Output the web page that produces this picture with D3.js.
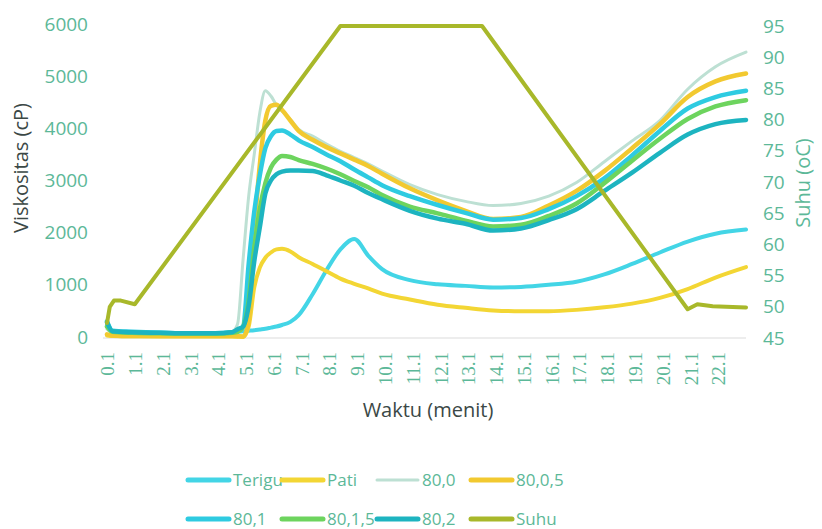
<!DOCTYPE html>
<html>
<head>
<meta charset="utf-8">
<script src="https://cdn.jsdelivr.net/npm/d3@7"></script>
<style>
  body { margin: 0; background: #fff; }
  svg { display: block; }
</style>
</head>
<body>
<svg id="chart"></svg>
<script>
const W = 822, H = 529;
const svg = d3.select("#chart").attr("width", W).attr("height", H);

// time (menit) shared by the viscosity series
const times = [0.1, 0.3, 1, 2, 3, 4, 4.6, 4.8, 5.0, 5.2, 5.4, 5.6, 5.8, 6.0, 6.2, 6.4, 6.7, 7.0, 7.5, 8.0,
  8.5, 9.0, 9.5, 10, 11, 12, 13, 14, 15, 16, 17, 18, 19, 20, 21, 22, 23.1];

const terigu = [250, 100, 90, 80, 70, 70, 90, 100, 110, 120, 130, 145, 160, 180, 200, 230, 290, 420, 820, 1280,
  1680, 1880, 1560, 1300, 1090, 1010, 980, 950, 960, 1000, 1060, 1200, 1400, 1620, 1830, 1980, 2060];
const pati = [30, 20, 15, 10, 10, 10, 10, 5, 0, 200, 950, 1330, 1520, 1620, 1680, 1690, 1640, 1530, 1400, 1260,
  1120, 1020, 930, 830, 720, 620, 560, 510, 495, 495, 520, 570, 640, 750, 920, 1140, 1340];
const s80_0 = [150, 80, 70, 60, 60, 60, 100, 250, 1500, 2700, 3500, 4300, 4720, 4620, 4450, 4330, 4170, 3980, 3850, 3700,
  3560, 3440, 3320, 3180, 2920, 2730, 2600, 2520, 2560, 2700, 2960, 3360, 3760, 4150, 4750, 5180, 5460];
const s80_05 = [50, 30, 20, 20, 20, 20, 20, 15, 10, 300, 2000, 3300, 4150, 4430, 4450, 4350, 4150, 3950, 3780, 3640,
  3520, 3400, 3280, 3130, 2850, 2620, 2420, 2260, 2300, 2520, 2800, 3180, 3620, 4080, 4600, 4900, 5050];
const s80_1 = [300, 120, 100, 80, 70, 70, 90, 130, 200, 1400, 2400, 3100, 3620, 3850, 3950, 3960, 3880, 3770, 3640, 3500,
  3370, 3210, 3060, 2910, 2700, 2530, 2380, 2250, 2280, 2450, 2700, 3040, 3480, 3950, 4380, 4600, 4720];
const s80_15 = [200, 100, 80, 70, 60, 60, 80, 100, 200, 700, 1700, 2450, 2950, 3250, 3400, 3470, 3450, 3390, 3320, 3230,
  3120, 2990, 2870, 2720, 2500, 2370, 2230, 2120, 2150, 2320, 2560, 2950, 3380, 3800, 4180, 4420, 4540];
const s80_2 = [280, 110, 90, 80, 70, 70, 90, 150, 200, 600, 1450, 2100, 2750, 3000, 3120, 3170, 3190, 3190, 3180, 3100,
  3000, 2900, 2760, 2640, 2420, 2270, 2170, 2040, 2080, 2240, 2450, 2800, 3150, 3530, 3880, 4080, 4160];

// temperature (secondary axis)
const suhuTimes = [0.1, 0.2, 0.35, 0.6, 1.1, 8.5, 13.6, 21.0, 21.35, 21.9, 23.1];
const suhuValues = [47.4, 50.0, 51.0, 51.0, 50.4, 95, 95, 49.6, 50.4, 50.1, 49.9];

const xTicks = [0.1, 1.1, 2.1, 3.1, 4.1, 5.1, 6.1, 7.1, 8.1, 9.1, 10.1, 11.1, 12.1, 13.1, 14.1, 15.1, 16.1,
  17.1, 18.1, 19.1, 20.1, 21.1, 22.1];
const yLeftTicks = [0, 1000, 2000, 3000, 4000, 5000, 6000];
const yRightTicks = [45, 50, 55, 60, 65, 70, 75, 80, 85, 90, 95];

const seriesNames = ["Terigu", "Pati", "80,0", "80,0,5", "80,1", "80,1,5", "80,2"];
const seriesValues = [terigu, pati, s80_0, s80_05, s80_1, s80_15, s80_2];
const seriesColors = ["#43d5e6", "#f3d634", "#bde0d3", "#f2c930", "#2ecbe1", "#6dd45e", "#1db4c0"];
const seriesWidths = [4, 4, 3, 4.5, 4.5, 4.5, 4.5];
const suhuColor = "#a8b82a";

const tickColor = "#5cb898";
const titleColor = "#3b4846";
const sans = "'Open Sans', sans-serif";

const plot = {left: 107, right: 746, top: 24, bottom: 337};

const x = d3.scaleLinear().domain([0.1, 23.1]).range([plot.left, plot.right]);
const yL = d3.scaleLinear().domain([0, 6000]).range([plot.bottom, plot.top]);
const yR = d3.scaleLinear().domain([45, 95]).range([plot.bottom + 1, plot.top + 2]);

// bottom axis line, faint
svg.append("line")
  .attr("x1", plot.left - 4).attr("x2", plot.right)
  .attr("y1", plot.bottom + 1).attr("y2", plot.bottom + 1)
  .attr("stroke", "#dcdcdc").attr("stroke-width", 1.2);

const gx = svg.append("g")
  .attr("transform", `translate(0,${plot.bottom})`)
  .attr("font-family", "'Liberation Serif', serif")
  .call(d3.axisBottom(x).tickValues(xTicks).tickSize(0).tickFormat(d3.format(".1f")));
gx.select(".domain").remove();
gx.selectAll("text")
  .attr("transform", "rotate(-90)")
  .attr("text-anchor", "end")
  .attr("x", -15).attr("y", 0).attr("dy", "0.35em")
  .attr("fill", tickColor)
  .style("font-family", "'Liberation Serif', serif")
  .style("font-size", "19px");

const gl = svg.append("g")
  .attr("transform", `translate(${plot.left},0)`)
  .call(d3.axisLeft(yL).tickValues(yLeftTicks).tickSize(0).tickPadding(19).tickFormat(d3.format("d")));
gl.select(".domain").remove();
gl.selectAll("text").attr("fill", tickColor).style("font-family", sans).style("font-size", "19px");

const gr = svg.append("g")
  .attr("transform", `translate(${plot.right},0)`)
  .call(d3.axisRight(yR).tickValues(yRightTicks).tickSize(0).tickPadding(17));
gr.select(".domain").remove();
gr.selectAll("text").attr("fill", tickColor).style("font-family", sans).style("font-size", "19px");

// axis titles
svg.append("text")
  .attr("transform", "translate(28,168) rotate(-90)")
  .attr("text-anchor", "middle")
  .attr("fill", titleColor)
  .style("font-family", sans).style("font-size", "20px")
  .text("Viskositas (cP)");

svg.append("text")
  .attr("transform", "translate(810,183) rotate(-90)")
  .attr("text-anchor", "middle")
  .attr("fill", tickColor)
  .style("font-family", sans).style("font-size", "20px")
  .text("Suhu (oC)");

svg.append("text")
  .attr("x", 428).attr("y", 417)
  .attr("text-anchor", "middle")
  .attr("fill", titleColor)
  .style("font-family", sans).style("font-size", "20px")
  .text("Waktu (menit)");

// lines
const line = d3.line()
  .x((d, i) => x(times[i]))
  .y(d => yL(d))
  .curve(d3.curveMonotoneX);

seriesValues.forEach((vals, k) => {
  svg.append("path")
    .datum(vals)
    .attr("d", line)
    .attr("fill", "none")
    .attr("stroke", seriesColors[k])
    .attr("stroke-width", seriesWidths[k])
    .attr("stroke-linejoin", "round")
    .attr("stroke-linecap", "round");
});

const suhuLine = d3.line()
  .x((d, i) => x(suhuTimes[i]))
  .y(d => yR(d));

svg.append("path")
  .datum(suhuValues)
  .attr("d", suhuLine)
  .attr("fill", "none")
  .attr("stroke", suhuColor)
  .attr("stroke-width", 4)
  .attr("stroke-linejoin", "round")
  .attr("stroke-linecap", "round");

// legend
const legendNames = seriesNames.concat(["Suhu"]);
const legendColors = seriesColors.concat([suhuColor]);
const legendCols = [188, 282, 377, 471];
const legendRows = [480, 519];

legendNames.forEach((name, i) => {
  const lx = legendCols[i % 4];
  const ly = legendRows[Math.floor(i / 4)];
  const g = svg.append("g").attr("transform", `translate(${lx},${ly})`);
  g.append("line")
    .attr("x1", 0).attr("x2", 41)
    .attr("stroke", legendColors[i])
    .attr("stroke-width", name === "80,0" ? 3 : 5)
    .attr("stroke-linecap", "round");
  g.append("text")
    .attr("x", 45).attr("dy", "0.35em")
    .attr("fill", tickColor)
    .style("font-family", sans).style("font-size", "17px")
    .text(name);
});
</script>
</body>
</html>
